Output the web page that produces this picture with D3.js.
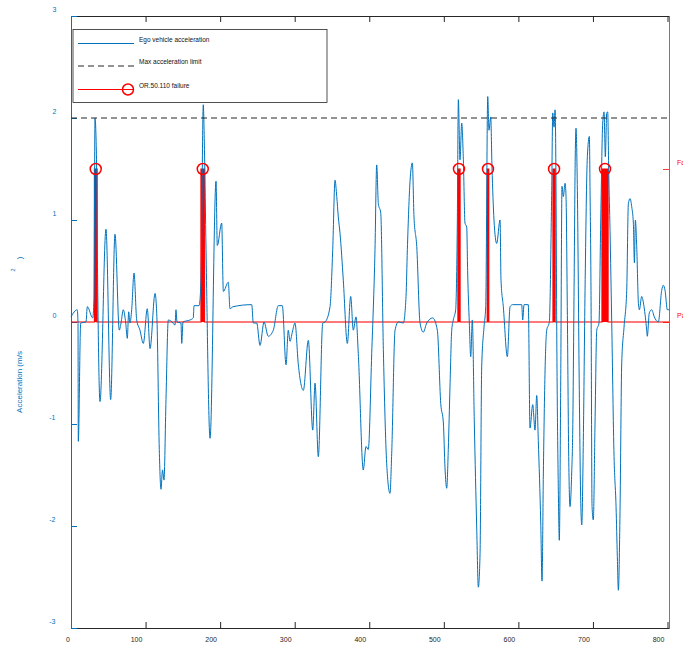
<!doctype html>
<html lang='en'>
<head>
<meta charset='UTF-8'>
<title>Acceleration</title>
<style>
  body { margin: 0; background: #fff; }
  svg { display: block; }
  text { font-family: 'Liberation Sans', Arial, sans-serif; }
</style>
</head>
<body>
<script src='https://d3js.org/d3.v7.min.js'></script>
<script>
  // ego vehicle acceleration
  const time = [0, 8.4, 9.4, 9.8, 13.0, 20.1, 21.9, 29.1, 30.8, 32.2, 34.2, 35.3, 38.9, 46.9, 53.2, 59.0, 64.8,
    67.1, 70.1, 73.4, 75.5, 77.4, 79.1, 81.4, 84.5, 88.1, 92.5, 97.0, 102.3, 106.0, 112.7, 115.3, 118.4, 120.7,
    122.7, 124.7, 127.4, 130.5, 135.5, 139.5, 140.8, 142.2, 147.5, 148.5, 150.2, 159.6, 164.0, 165.0, 171.7,
    174.4, 177.4, 179.0, 181.1, 186.5, 194.5, 196.2, 202.1, 204.3, 211.0, 213.2, 217.3, 242.4, 244.5, 249.1,
    253.5, 258.9, 264.6, 271.3, 278.0, 283.4, 288.4, 291.4, 293.7, 296.8, 300.4, 304.9, 311.6, 318.3, 324.2,
    327.3, 331.7, 337.6, 340.7, 347.4, 351.0, 354.1, 356.4, 358.5, 360.8, 365.2, 370.6, 375.1, 378.6, 382.2,
    385.3, 392.0, 395.6, 398.7, 403.3, 407.7, 410.0, 412.2, 415.4, 418.9, 423.4, 427.8, 430.1, 434.6, 439.0,
    445.7, 449.3, 451.1, 454.7, 457.8, 460.0, 463.7, 468.1, 472.5, 477.1, 485.1, 491.3, 495.9, 499.4, 501.6,
    503.9, 506.0, 508.3, 510.6, 512.7, 515.9, 518.1, 519.5, 521.7, 524.0, 526.2, 528.4, 530.7, 532.0, 534.2,
    536.1, 538.2, 540.9, 544.1, 546.3, 548.6, 550.8, 553.9, 556.2, 558.9, 560.6, 562.9, 564.6, 567.3, 570.9,
    575.4, 576.7, 579.8, 585.2, 588.8, 592.4, 604.5, 605.8, 607.6, 613.3, 615.6, 619.2, 622.3, 624.6, 626.7,
    630.0, 631.7, 633.5, 635.8, 638.0, 641.5, 644.7, 646.1, 647.8, 649.2, 650.5, 651.4, 653.6, 654.9, 656.8,
    658.5, 660.3, 662.6, 663.9, 665.6, 667.5, 669.2, 671.5, 672.9, 674.6, 676.4, 677.3, 679.1, 681.7, 683.6,
    685.0, 687.1, 689.4, 692.5, 695.2, 696.1, 697.4, 698.8, 700.5, 702.8, 705.1, 708.1, 710.4, 713.1, 714.9,
    716.6, 718.5, 719.8, 721.2, 722.9, 725.2, 728.3, 731.0, 732.7, 734.1, 736.3, 738.6, 741.7, 745.3, 747.5,
    749.8, 752.0, 754.2, 755.6, 756.9, 758.7, 761.0, 762.3, 765.4, 768.5, 772.1, 772.9, 775.6, 778.8, 782.3,
    787.7, 792.2, 794.4, 796.7, 799.8, 802]
  const accel = [0.05, 0.12, -0.01, -1.17, -0.01, 0, 0.15, 0.04, 0.22, 2.0, 1.59, 0.71, -0.78, 0.91, -0.76, 0.86, -0.08,
    -0.01, 0.12, -0.01, -0.16, 0.10, -0.01, 0.12, 0.48, 0.02, -0.08, -0.21, 0.13, -0.26, 0.28, 0.02, -1.25, -1.64,
    -1.45, -1.55, -0.76, 0.02, 0, -0.03, 0.12, 0, -0.01, -0.21, 0, 0.02, 0.04, 0.16, 0.16,
    0.41, 2.13, 1.69, 0.71, -1.14, 1.38, 0.75, 0.97, 0.30, 0.39, 0.13, 0.15, 0.17, -0.01, -0.01,
    -0.23, 0, -0.14, -0.08, 0.16, 0.16, -0.42, -0.08, -0.19, -0.10, -0.01, -0.42, -0.67, -0.18, -1.06,
    -0.60, -1.32, -0.01, 0, 0.15, 0.71, 1.39, 1.23, 1.03, 0.87, 0.41, -0.21, 0.25, -0.08, 0.05,
    -0.31, -1.45, -1.22, -1.25, -0.31, 0.71, 1.54, 1.16, 1.07, -0.27, -1.39, -1.68, -1.29, -0.08, 0,
    -0.01, 0.25, 0.71, 1.38, 1.56, 1.03, 0.74, -0.01, -0.10, -0.01, 0.04, -0.08, -0.80, -0.99, -1.43,
    -1.63, -1.25, -0.63, -0.08, 0.02, 0.12, 0.97, 2.18, 1.59, 1.95, 1.59, 0.97, 0.93, 0.48, -0.01,
    -0.34, 0.02, -0.99, -2.01, -2.60, -2.27, -0.44, -0.05, 0.15, 2.21, 1.88, 2.01, 1.52, 1.0, 0.77,
    1.0, 0.41, 0.15, -0.34, 0.15, 0.17, 0.17, 0.02, 0.17, 0.17, -1.04, -0.81, -1.06, -0.72, -1.16,
    -1.97, -2.54, -1.48, -0.47, -0.08, 0, 1.29, 2.05, 1.91, 2.08, 1.29, -0.01, -1.65, -2.14, -0.57,
    1.33, 1.23, 1.36, 1.23, 0.15, -1.32, -1.81, -1.48, -1.06, 0.25, 1.69, 1.90, 1.29, -0.67, -1.75,
    -1.99, -1.16, 0.31, 1.62, 1.82, 1.29, 0.31, -1.81, -1.94, -0.99, -0.08, -0.01, 0.97, 1.95, 2.06,
    1.62, 2.05, 2.06, 1.46, 0.90, -0.01, -1.32, -1.81, -2.30, -2.63, -1.86, -0.40, -0.05, 0.31, 1.16,
    1.21, 1.13, 0.97, 0.58, 1.0, 0.74, 0.18, 0.12, 0.25, 0.15, -0.08, -0.14, 0.09, 0.12, 0.05,
    0, 0.31, 0.36, 0.31, 0.12, 0.12]

  const accelLimit = 2
  // OR.50.110 failure intervals (0 = Pass, 1 = Fail)
  const failStart = [31.4, 174.4, 519.0, 558.3, 646.5, 712.2]
  const failEnd = [34.9, 179.0, 521.7, 560.2, 649.2, 720.2]

  const xTicks = [0, 100, 200, 300, 400, 500, 600, 700, 800]
  const yTicks = [-3, -2, -1, 0, 1, 2, 3]
  const rTicks = [0, 1]
  const rLabels = ['Pass', 'Fail']

  const blue = '#0072bd', red = '#ff0000', dark = '#262626'
  const W = 683, H = 646
  const plot = { left: 71, right: 669, top: 16, bottom: 628 }

  const x = d3.scaleLinear().domain([0, 802]).range([plot.left, plot.right])
  const y = d3.scaleLinear().domain([-3, 3]).range([plot.bottom, plot.top])
  const yR = d3.scaleLinear().domain([-2, 2]).range([plot.bottom, plot.top])

  const svg = d3.select('body').append('svg')
    .attr('width', W)
    .attr('height', H)

  //// axes ////
  svg.append('g')
    .attr('transform', `translate(0,${plot.bottom})`)
    .call(d3.axisTop(x).tickValues(xTicks).tickSize(6).tickSizeOuter(0).tickFormat(''))
    .call(g => g.selectAll('line,path').attr('stroke', dark))

  svg.append('g')
    .attr('transform', `translate(0,${plot.top})`)
    .call(d3.axisBottom(x).tickValues(xTicks).tickSize(6).tickSizeOuter(0).tickFormat(''))
    .call(g => g.selectAll('line,path').attr('stroke', dark))

  svg.append('g')
    .attr('transform', `translate(${plot.left},0)`)
    .call(d3.axisRight(y).tickValues(yTicks).tickSize(6).tickSizeOuter(0).tickFormat(''))
    .call(g => g.selectAll('line,path').attr('stroke', blue))

  svg.append('g')
    .attr('transform', `translate(${plot.right},0)`)
    .call(d3.axisLeft(yR).tickValues(rTicks).tickSize(6).tickSizeOuter(0).tickFormat(''))
    .call(g => g.selectAll('line,path').attr('stroke', red).attr('stroke-opacity', 0.75))

  // tick labels (offset like the exported figure)
  svg.append('g').selectAll('text')
    .data(xTicks).enter().append('text')
    .attr('x', d => x(d) - 3 * String(d).length)
    .attr('y', plot.bottom + 14)
    .attr('text-anchor', 'middle')
    .attr('font-size', 7)
    .attr('fill', dark)
    .text(d => d)

  svg.append('g').selectAll('text')
    .data(yTicks).enter().append('text')
    .attr('x', d => 56 - 3.4 * String(d).length)
    .attr('y', d => y(d) - 4.5)
    .attr('font-size', 7)
    .attr('fill', blue)
    .text(d => d)

  // right labels run off the page edge, as in the export
  svg.append('g').selectAll('text')
    .data(rTicks).enter().append('text')
    .attr('x', plot.right + 8)
    .attr('y', d => yR(d) - 4.5)
    .attr('font-size', 7)
    .attr('fill', red)
    .text((d, i) => rLabels[i])

  // y label, superscript lands apart as in the export
  svg.append('text')
    .attr('transform', 'translate(22,382) rotate(-90)')
    .attr('text-anchor', 'middle')
    .attr('font-size', 8)
    .attr('fill', blue)
    .text('Acceleration (m/s')
  svg.append('text')
    .attr('transform', 'translate(15,270) rotate(-90)')
    .attr('text-anchor', 'middle')
    .attr('font-size', 5.5)
    .attr('fill', blue)
    .text('2')
  svg.append('text')
    .attr('transform', 'translate(22,258) rotate(-90)')
    .attr('text-anchor', 'middle')
    .attr('font-size', 8)
    .attr('fill', blue)
    .text(')')

  //// failure signal ////
  const failPts = [[0, 0]]
  failStart.forEach((s, i) => {
    failPts.push([s, 0], [s, 1], [failEnd[i], 1], [failEnd[i], 0])
  })
  failPts.push([802, 0])

  svg.append('path')
    .datum(failPts)
    .attr('fill', 'none')
    .attr('stroke', red)
    .attr('stroke-opacity', 0.7)
    .attr('stroke-width', 1.3)
    .attr('d', d3.line().x(d => x(d[0])).y(d => yR(d[1])))

  svg.append('g').selectAll('rect')
    .data(failStart).enter().append('rect')
    .attr('x', (d, i) => x(d) - 0.4)
    .attr('width', (d, i) => x(failEnd[i]) - x(d) + 0.8)
    .attr('y', yR(1))
    .attr('height', yR(0) - yR(1))
    .attr('fill', red)

  //// acceleration ////
  svg.append('path')
    .datum(time.map((t, i) => [t, accel[i]]))
    .attr('fill', 'none')
    .attr('stroke', blue)
    .attr('stroke-width', 1)
    .attr('stroke-linejoin', 'round')
    .attr('d', d3.line().curve(d3.curveMonotoneX).x(d => x(d[0])).y(d => y(d[1])))

  svg.append('line')
    .attr('x1', plot.left).attr('x2', plot.right)
    .attr('y1', y(accelLimit)).attr('y2', y(accelLimit))
    .attr('stroke', dark)
    .attr('stroke-dasharray', '6,4')

  svg.append('g').selectAll('circle')
    .data(failStart).enter().append('circle')
    .attr('cx', (d, i) => x((d + failEnd[i]) / 2))
    .attr('cy', yR(1))
    .attr('r', 5.5)
    .attr('fill', 'none')
    .attr('stroke', red)
    .attr('stroke-width', 1.5)

  //// legend ////
  const lg = svg.append('g').attr('transform', 'translate(73,29.5)')
  lg.append('rect')
    .attr('width', 254).attr('height', 73)
    .attr('fill', '#fff')
    .attr('stroke', dark)
    .attr('stroke-width', 0.8)

  const items = ['Ego vehicle acceleration', 'Max acceleration limit', 'OR.50.110 failure']
  const rowY = [14, 36.5, 60]
  items.forEach((name, i) => {
    lg.append('line')
      .attr('x1', 5).attr('x2', 61)
      .attr('y1', rowY[i]).attr('y2', rowY[i])
      .attr('stroke', [blue, dark, red][i])
      .attr('stroke-width', i === 2 ? 1.2 : 1)
      .attr('stroke-dasharray', i === 1 ? '6,4' : null)
    lg.append('text')
      .attr('x', 66).attr('y', rowY[i] - 2)
      .attr('font-size', 6.5)
      .attr('fill', '#111')
      .text(name)
  })
  lg.append('circle')
    .attr('cx', 55).attr('cy', rowY[2])
    .attr('r', 5.5)
    .attr('fill', 'none')
    .attr('stroke', red)
    .attr('stroke-width', 1.5)
</script>
</body>
</html>
